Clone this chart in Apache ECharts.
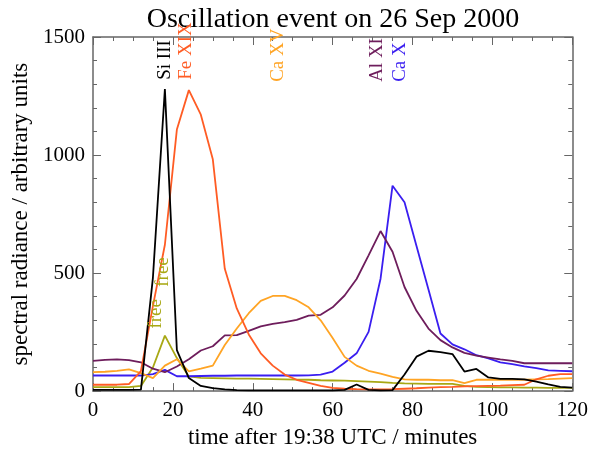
<!DOCTYPE html>
<html>
<head>
<meta charset="utf-8">
<script src="https://cdn.jsdelivr.net/npm/echarts@6/dist/echarts.min.js"></script>
<style>
html,body{margin:0;padding:0;background:#fff;}
#chart{width:591px;height:454px;}
</style>
</head>
<body>
<div id="chart"></div>
<script>
// time after 19:38 UTC, minutes
var times = [0,3,6,9,12,15,18,21,24,27,30,33,36,39,42,45,48,51,54,57,60,63,66,69,72,75,78,81,84,87,90,93,96,99,102,105,108,111,114,117,120];

var siIII  = [5,5,5,5,6,480,1280,174,55,22,13,7,4,3,3,3,3,3,3,3,3,5,28,5,3,4,70,146,171,165,157,83,94,58,52,52,50,40,28,18,15];
var feXIX  = [27,27,27,30,85,360,620,1108,1275,1171,982,518,350,240,160,108,70,48,35,22,14,10,8,7,7,8,10,12,15,17,18,20,21,22,23,25,27,50,65,72,72];
var caXV   = [80,82,86,92,76,55,108,135,84,95,108,195,265,330,382,403,403,385,355,300,225,145,108,86,74,60,50,48,48,46,46,34,48,48,48,48,48,50,51,53,55];
var alXI   = [128,132,134,131,122,95,80,104,135,172,190,236,237,255,274,285,292,302,320,323,355,405,475,575,678,590,441,340,265,216,185,162,150,142,134,128,118,118,118,118,118];
var caX    = [66,66,66,66,66,72,90,63,63,64,65,65,66,66,67,66,66,66,67,70,83,120,160,251,476,870,800,615,430,244,198,177,152,139,122,114,105,97,88,86,84];
var freeFree = [17,17,17,17,22,100,235,140,62,56,55,54,53,53,52,51,50,49,48,46,45,44,42,40,38,35,33,32,31,31,31,22,18,17,16,16,15,15,14,14,14];

var seriesNames  = ['Si III','Fe XIX','Ca XV','Al XI','Ca X','free free'];
var seriesColors = ['#000000','#ff5c24','#ffa424','#6e1d5c','#3a1ef0','#a8a814'];
var seriesValues = [siIII, feXIX, caXV, alXI, caX, freeFree];

// line labels: text, colour index, anchor time, anchor value
var labelTexts  = ['Si III','Fe XIX','Ca XV','Al XI','Ca X','free','free'];
var labelColors = [0,1,2,3,4,5,5];
var labelTimes  = [18.1,23.4,46.3,71.1,76.9,15.8,17.6];
var labelValues = [1319,1319,1310,1310,1310,265,442];

var FONT = '"Liberation Serif", "DejaVu Serif", serif';

var chart = echarts.init(document.getElementById('chart'));

var series = [];
for (var i = 0; i < seriesValues.length; i++) {
	var d = [];
	for (var j = 0; j < times.length; j++) {
		d.push([times[j], seriesValues[i][j]]);
	}
	series.push({
		name: seriesNames[i],
		type: 'line',
		data: d,
		showSymbol: false,
		lineStyle: {color: seriesColors[i], width: 1.8},
		itemStyle: {color: seriesColors[i]},
		z: 10 - i,
		animation: false
	});
}

var axisLineStyle = {show: true, onZero: false, lineStyle: {color: '#666', width: 1.5}};

function xAx(pos, labels) {
	return {
		type: 'value', position: pos, min: 0, max: 120, interval: 20,
		axisLine: axisLineStyle,
		axisTick: {show: true, inside: true, length: 8, lineStyle: {color: '#666'}},
		minorTick: {show: true, splitNumber: 4, length: 4, lineStyle: {color: '#666'}},
		splitLine: {show: false},
		axisLabel: {show: labels, color: '#000', fontFamily: FONT, fontSize: 21, margin: 9},
		name: labels ? 'time after 19:38 UTC / minutes' : '',
		nameLocation: 'middle', nameGap: 33,
		nameTextStyle: {color: '#000', fontFamily: FONT, fontSize: 23}
	};
}
function yAx(pos, labels) {
	return {
		type: 'value', position: pos, min: 0, max: 1500, interval: 500,
		axisLine: axisLineStyle,
		axisTick: {show: true, inside: true, length: 8, lineStyle: {color: '#666'}},
		minorTick: {show: true, splitNumber: 5, length: 4, lineStyle: {color: '#666'}},
		splitLine: {show: false},
		axisLabel: {show: labels, color: '#000', fontFamily: FONT, fontSize: 21, margin: 8,
			formatter: function (v) { return String(v); }},
		name: labels ? 'spectral radiance / arbitrary units' : '',
		nameLocation: 'middle', nameGap: 59,
		nameTextStyle: {color: '#000', fontFamily: FONT, fontSize: 23}
	};
}

var option = {
	backgroundColor: '#fff',
	animation: false,
	title: {
		text: 'Oscillation event on 26 Sep 2000',
		left: 328, top: 1, textAlign: 'center',
		textStyle: {color: '#000', fontFamily: FONT, fontSize: 28, fontWeight: 'normal'}
	},
	grid: {left: 93, right: 17, top: 37, bottom: 61, containLabel: false},
	xAxis: [xAx('bottom', true), xAx('top', false)],
	yAxis: [yAx('left', true), yAx('right', false)],
	series: series
};
chart.setOption(option);

// rotated line labels placed through the axes
var graphics = [];
for (var k = 0; k < labelTexts.length; k++) {
	var p = chart.convertToPixel({xAxisIndex: 0, yAxisIndex: 0}, [labelTimes[k], labelValues[k]]);
	graphics.push({
		type: 'text',
		x: p[0], y: p[1],
		rotation: Math.PI / 2,
		z: 100,
		style: {
			text: labelTexts[k],
			fill: seriesColors[labelColors[k]],
			font: '19px ' + FONT,
			align: 'left',
			verticalAlign: 'middle'
		}
	});
}
chart.setOption({graphic: graphics});
</script>
</body>
</html>
